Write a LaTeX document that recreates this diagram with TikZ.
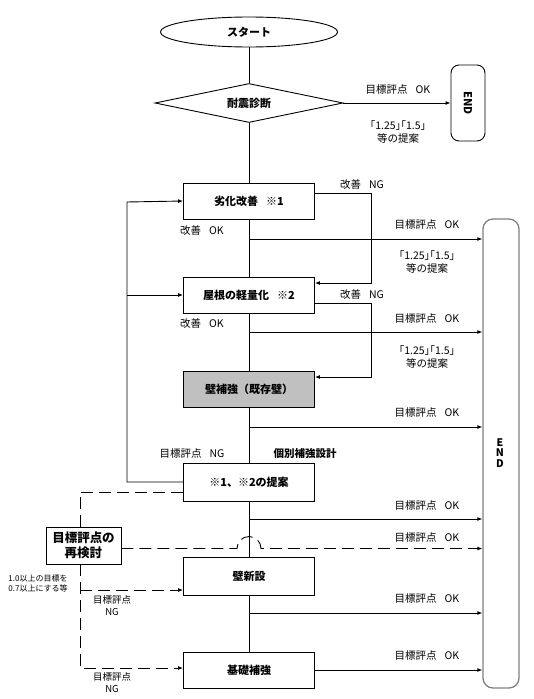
\documentclass[tikz,border=0pt]{standalone}
\usepackage{fontspec}
\setmainfont{Noto Sans CJK JP}
\usetikzlibrary{shapes.geometric,arrows.meta}
\begin{document}
\begin{tikzpicture}[x=1pt,y=-1pt,
  line width=0.9pt,
  arr/.style={-{Latex[length=5pt,width=4pt]}},
  dsh/.style={dash pattern=on 12pt off 6pt},
  box/.style={draw,minimum width=131pt,minimum height=36pt,inner sep=0pt,font=\bfseries\fontsize{11}{13}\selectfont},
  lbl/.style={font=\fontsize{10.5}{13}\selectfont,inner sep=0pt},
  sml/.style={font=\fontsize{8}{10}\selectfont,inner sep=0pt,align=left}]
\useasboundingbox (0,0) rectangle (534,699);
% nodes
\node[ellipse,draw,minimum width=177pt,minimum height=30pt,inner sep=0pt,font=\bfseries\fontsize{11}{13}\selectfont] (start) at (249,32) {スタート};
\node[diamond,draw,aspect=4.8,minimum width=188pt,minimum height=39pt,inner sep=0pt,font=\bfseries\fontsize{11}{13}\selectfont] (diag) at (249,103) {耐震診断};
\node[draw,rounded corners=8pt,minimum width=34pt,minimum height=76pt] (end1) at (468,103) {};
\node[rotate=-90,font=\bfseries\fontsize{11}{13}\selectfont] (end1t) at (end1) {END};
\node[draw=gray,line width=1.3pt,rounded corners=10pt,minimum width=36pt,minimum height=469pt] (end2) at (501,453.5) {};
\node[align=center,inner sep=0pt,font=\bfseries\fontsize{10.5}{10.5}\selectfont] (end2t) at (500,453) {E\\N\\D};
\node[box] (b1) at (249,201) {劣化改善\hspace{8pt}※1};
\node[box] (b2) at (249,295) {屋根の軽量化\hspace{8pt}※2};
\node[box,fill={rgb,255:red,192;green,192;blue,192}] (b3) at (249,389) {壁補強（既存壁）};
\node[box,minimum height=38pt] (b4) at (249,482) {※1、※2の提案};
\node[draw,minimum width=75pt,minimum height=37pt,inner sep=0pt,align=center,font=\bfseries\fontsize{12.5}{15}\selectfont] (b5) at (83.5,545.5) {目標評点の\\再検討};
\node[box,minimum height=38pt] (b6) at (249,576) {壁新設};
\node[box] (b7) at (249,670) {基礎補強};
% labels
\node[lbl] (l1) at (398,90) {目標評点\hspace{8pt}OK};
\node[lbl,align=center] (l2) at (398,132) {｢1.25｣｢1.5｣\\等の提案};
\node[lbl] (l3) at (362,185) {改善\hspace{8pt}NG};
\node[lbl] (l4) at (202,231) {改善\hspace{8pt}OK};
\node[lbl] (l5) at (427,225) {目標評点\hspace{8pt}OK};
\node[lbl,align=center] (l6) at (427,262) {｢1.25｣｢1.5｣\\等の提案};
\node[lbl] (l7) at (362,295) {改善\hspace{8pt}NG};
\node[lbl] (l8) at (202,324) {改善\hspace{8pt}OK};
\node[lbl] (l9) at (427,319) {目標評点\hspace{8pt}OK};
\node[lbl,align=center] (l10) at (427,357) {｢1.25｣｢1.5｣\\等の提案};
\node[lbl] (l11) at (427,413) {目標評点\hspace{8pt}OK};
\node[lbl] (l12) at (192,454) {目標評点\hspace{8pt}NG};
\node[lbl,font=\bfseries\fontsize{10.5}{13}\selectfont] (l13) at (305,454) {個別補強設計};
\node[lbl] (l14) at (427,506) {目標評点\hspace{8pt}OK};
\node[lbl] (l15) at (427,538) {目標評点\hspace{8pt}OK};
\node[lbl] (l16) at (427,599) {目標評点\hspace{8pt}OK};
\node[lbl] (l17) at (427,656) {目標評点\hspace{8pt}OK};
\node[sml] (l18) at (38,583) {1.0以上の目標を\\0.7以上にする等};
\node[lbl,align=center,font=\fontsize{9.5}{12}\selectfont] (l19) at (112,606) {目標評点\\NG};
\node[lbl,align=center,font=\fontsize{9.5}{12}\selectfont] (l20) at (112,683) {目標評点\\NG};
% coordinates
\coordinate (c1) at (249,239);
\coordinate (c2) at (249,332);
\coordinate (c3) at (249,427);
\coordinate (c4) at (249,519);
\coordinate (c5) at (249,613);
% connectors
\draw (start.south) -- (diag.north);
\draw[arr] (diag.east) -- (end1.west);
\draw (diag.south) -- (b1.north);
\draw (b1.south) -- (b2.north);
\draw (b2.south) -- (b3.north);
\draw (b3.south) -- (b4.north);
\draw (b4.south) -- (b6.north);
\draw (b6.south) -- (b7.north);
\draw[arr] (c1) -- (end2.west |- c1);
\draw[arr] (c2) -- (end2.west |- c2);
\draw[arr] (c3) -- (end2.west |- c3);
\draw[arr] (c4) -- (end2.west |- c4);
\draw[arr] (c5) -- (end2.west |- c5);
\draw[arr] (b7.east) -- (end2.west |- b7.east);
\draw[arr] (b1.east |- 0,193) -| (371,283) -- (b2.east |- 0,283);
\draw[arr] (b2.east |- 0,303) -| (371,377) -- (b3.east |- 0,377);
\draw[arr] (b4.west) -| (127,202) -- (b1.west);
\draw[arr] (127,295) -- (b2.west);
\draw[dsh] (b4.west |- 0,492) -| (80,527);
\coordinate (h1) at (237,548.5);
\draw[dsh,arr] (b5.east |- h1) -- (h1) arc[start angle=180,end angle=0,radius=12pt] -- (end2.west |- h1);
\draw[dsh,arr] (80,564) -- (80,668) -- (b7.west |- 0,668);
\draw[dsh,arr] (80,590) -- (b6.west |- 0,590);
\end{tikzpicture}
\end{document}
